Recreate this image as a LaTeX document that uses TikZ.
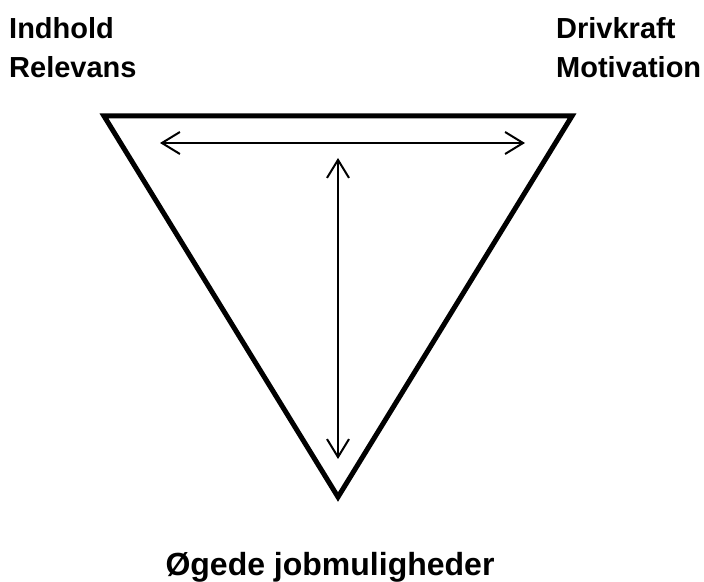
\documentclass[tikz,border=0pt]{standalone}
\usepackage{fontspec}
\setmainfont{Liberation Sans}
\usetikzlibrary{arrows.meta}
\begin{document}
\begin{tikzpicture}[x=1pt,y=1pt,
  lbl/.style={font=\fontsize{29}{34}\selectfont\bfseries, inner sep=0pt, anchor=base west},
  tri/.style={line width=5pt, line join=miter},
  dbl/.style={line width=2pt, {Straight Barb[length=18pt,width=22pt,line width=2pt]}-{Straight Barb[length=18pt,width=22pt,line width=2pt]}}]
\useasboundingbox (0,0) rectangle (704,581);
\coordinate (tl) at (104,465);
\coordinate (tr) at (572,465);
\coordinate (bt) at (338,84);
\draw[tri] (tl) -- (tr) -- (bt) -- cycle;
\coordinate (hl) at (160,438);
\coordinate (hr) at (525,438);
\coordinate (vt) at (338,423);
\coordinate (vb) at (338,122);
\draw[dbl] (hl) -- (hr);
\draw[dbl] (vt) -- (vb);
\node[lbl] (a) at (9,542) {Indhold};
\node[lbl] (b) at (9,503) {Relevans};
\node[lbl] (c) at (556,542) {Drivkraft};
\node[lbl] (d) at (556,503) {Motivation};
\node[font=\fontsize{32}{38}\selectfont\bfseries, inner sep=0pt, anchor=base] (e) at (330,6) {Øgede jobmuligheder};
\end{tikzpicture}
\end{document}
